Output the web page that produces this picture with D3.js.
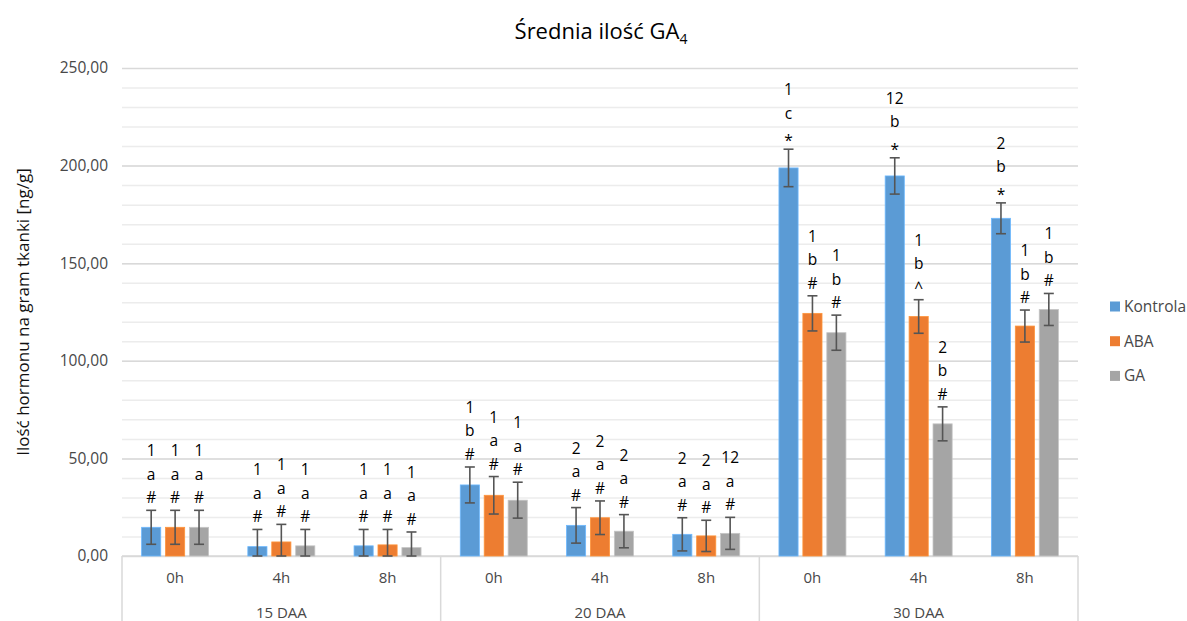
<!DOCTYPE html>
<html>
<head>
<meta charset="utf-8">
<script src="https://cdn.jsdelivr.net/npm/d3@7"></script>
<style>
  body { margin: 0; background: #fff; }
  text { font-family: "Open Sans", sans-serif; }
</style>
</head>
<body>
<svg id="chart" width="1187" height="621"></svg>
<script>
// data
var groups = ["15 DAA", "20 DAA", "30 DAA"];
var hours = ["0h", "4h", "8h"];
var series = ["Kontrola", "ABA", "GA"];
var colors = ["#5B9BD5", "#ED7D31", "#A5A5A5"];

var kontrola = [14.7, 4.8, 5.2, 36.4, 15.7, 11.1, 198.8, 194.7, 173.0];
var aba = [14.7, 7.2, 5.7, 31.1, 19.6, 10.3, 124.3, 122.7, 117.8];
var ga = [14.7, 5.2, 4.3, 28.6, 12.7, 11.6, 114.4, 67.7, 126.3];

var kontrolaErr = [8.7, 8.8, 8.4, 9.2, 9.1, 8.5, 9.6, 9.3, 7.9];
var abaErr = [8.7, 9.0, 7.9, 9.6, 8.6, 8.0, 9.0, 8.6, 8.2];
var gaErr = [8.7, 8.4, 8.0, 9.2, 8.5, 8.2, 9.0, 8.7, 8.2];

var kontrolaLbl = ["1 a #", "1 a #", "1 a #", "1 b #", "2 a #", "2 a #", "1 c *", "12 b *", "2 b *"];
var abaLbl = ["1 a #", "1 a #", "1 a #", "1 a #", "2 a #", "2 a #", "1 b #", "1 b ^", "1 b #"];
var gaLbl = ["1 a #", "1 a #", "1 a #", "1 a #", "2 a #", "12 a #", "1 b #", "2 b #", "1 b #"];

var yTicks = [0, 50, 100, 150, 200, 250];

var values = [kontrola, aba, ga];
var errs = [kontrolaErr, abaErr, gaErr];
var lbls = [kontrolaLbl, abaLbl, gaLbl];

var svg = d3.select("#chart");
var plotL = 122, plotR = 1078, plotT = 68, plotB = 556;
var axisCol = "#484848";

var cats = [];
groups.forEach(function(g){ hours.forEach(function(h){ cats.push(g + "|" + h); }); });

var x0 = d3.scaleBand().domain(cats).range([plotL, plotR]).padding(0);
var xg = d3.scaleBand().domain(groups).range([plotL, plotR]).padding(0);
var x1 = d3.scaleBand().domain(series).range([-33.5, 33.5]).paddingInner(0.2);
var y = d3.scaleLinear().domain([0, 250]).range([plotB, plotT]);

var comma = d3.formatLocale({decimal: ",", thousands: " ", grouping: [3], currency: ["", ""]}).format(".2f");

// minor grid
svg.append("g")
  .attr("transform", "translate(" + plotL + ",0)")
  .call(d3.axisLeft(y).tickValues(d3.range(10, 250, 10)).tickSize(-(plotR - plotL)).tickFormat(""))
  .call(function(g){ g.select(".domain").remove(); })
  .selectAll("line").attr("stroke", "#ececec").attr("stroke-width", 1.5);

// major grid + labels
svg.append("g")
  .attr("transform", "translate(" + plotL + ",0)")
  .call(d3.axisLeft(y).tickValues(yTicks).tickSize(-(plotR - plotL)).tickPadding(14).tickFormat(comma))
  .call(function(g){ g.select(".domain").remove(); })
  .call(function(g){
    g.selectAll("line").attr("stroke", "#d9d9d9").attr("stroke-width", 1.5);
    g.selectAll("text").attr("fill", axisCol).style("font-size", "15.5px").style("font-family", "Open Sans, sans-serif");
  });

// category axis box
svg.append("line").attr("x1", plotL).attr("x2", plotR).attr("y1", plotB).attr("y2", plotB)
  .attr("stroke", "#d9d9d9").attr("stroke-width", 1.5);
svg.selectAll(".sep").data(groups.concat(["end"])).enter().append("line")
  .attr("x1", function(d, i){ return i < groups.length ? xg(d) : plotR; })
  .attr("x2", function(d, i){ return i < groups.length ? xg(d) : plotR; })
  .attr("y1", plotB).attr("y2", 621)
  .attr("stroke", "#d9d9d9").attr("stroke-width", 1.5);

svg.selectAll(".hour").data(cats).enter().append("text")
  .attr("x", function(d){ return x0(d) + x0.bandwidth() / 2; })
  .attr("y", 583)
  .attr("text-anchor", "middle").attr("fill", axisCol).style("font-size", "15px")
  .text(function(d){ return d.split("|")[1]; });

svg.selectAll(".grp").data(groups).enter().append("text")
  .attr("x", function(d){ return xg(d) + xg.bandwidth() / 2; })
  .attr("y", 618)
  .attr("text-anchor", "middle").attr("fill", axisCol).style("font-size", "15px")
  .text(function(d){ return d; });

// bars, error bars, annotations
series.forEach(function(s, si){
  var g = svg.append("g");
  var rows = cats.map(function(c, i){ return {c: c, v: values[si][i], e: errs[si][i], l: lbls[si][i]}; });
  var cx = function(d){ return x0(d.c) + x0.bandwidth() / 2 + x1(s) + x1.bandwidth() / 2; };

  g.selectAll("rect").data(rows).enter().append("rect")
    .attr("x", function(d){ return cx(d) - x1.bandwidth() / 2; })
    .attr("y", function(d){ return y(d.v); })
    .attr("width", x1.bandwidth())
    .attr("height", function(d){ return y(0) - y(d.v); })
    .attr("fill", colors[si])
    .attr("stroke", d3.color(colors[si]).brighter(0.5)).attr("stroke-width", 0.8);

  var eb = g.selectAll(".eb").data(rows).enter().append("g").attr("stroke", "#555").attr("stroke-width", 1.6);
  eb.append("line").attr("x1", cx).attr("x2", cx)
    .attr("y1", function(d){ return y(d.v + d.e); }).attr("y2", function(d){ return y(Math.max(0, d.v - d.e)); });
  eb.append("line").attr("x1", function(d){ return cx(d) - 5; }).attr("x2", function(d){ return cx(d) + 5; })
    .attr("y1", function(d){ return y(d.v + d.e); }).attr("y2", function(d){ return y(d.v + d.e); });
  eb.append("line").attr("x1", function(d){ return cx(d) - 5; }).attr("x2", function(d){ return cx(d) + 5; })
    .attr("y1", function(d){ return y(Math.max(0, d.v - d.e)); }).attr("y2", function(d){ return y(Math.max(0, d.v - d.e)); });

  var at = g.selectAll(".ann").data(rows).enter().append("text")
    .attr("text-anchor", "middle").attr("fill", "#000").style("font-size", "15.5px");
  at.each(function(d){
    var parts = d.l.split(" ");
    var base = y(d.v + d.e) - 7;
    var t = d3.select(this);
    parts.forEach(function(p, k){
      t.append("tspan").attr("x", cx(d))
        .attr("y", base - (parts.length - 1 - k) * 23.5 + (p == "*" ? 4 : 0))
        .text(p);
    });
  });
});

// title
var title = svg.append("text").attr("x", 601).attr("y", 39).attr("text-anchor", "middle")
  .attr("fill", "#000").style("font-size", "22px");
title.append("tspan").text("Średnia ilość GA");
title.append("tspan").attr("dy", 5).style("font-size", "14px").text("4");

// y title
svg.append("text")
  .attr("transform", "translate(29," + ((plotT + plotB) / 2) + ") rotate(-90)")
  .attr("text-anchor", "middle").attr("fill", "#111").style("font-size", "17px")
  .text("Ilość hormonu na gram tkanki [ng/g]");

// legend
var leg = svg.selectAll(".leg").data(series).enter().append("g")
  .attr("transform", function(d, i){ return "translate(1110," + (306.5 + i * 34.7) + ")"; });
leg.append("rect").attr("x", 0).attr("y", -5).attr("width", 10).attr("height", 10)
  .attr("fill", function(d, i){ return colors[i]; });
leg.append("text").attr("x", 14).attr("y", 5.5).attr("fill", axisCol).style("font-size", "15.5px")
  .text(function(d){ return d; });
</script>
</body>
</html>
